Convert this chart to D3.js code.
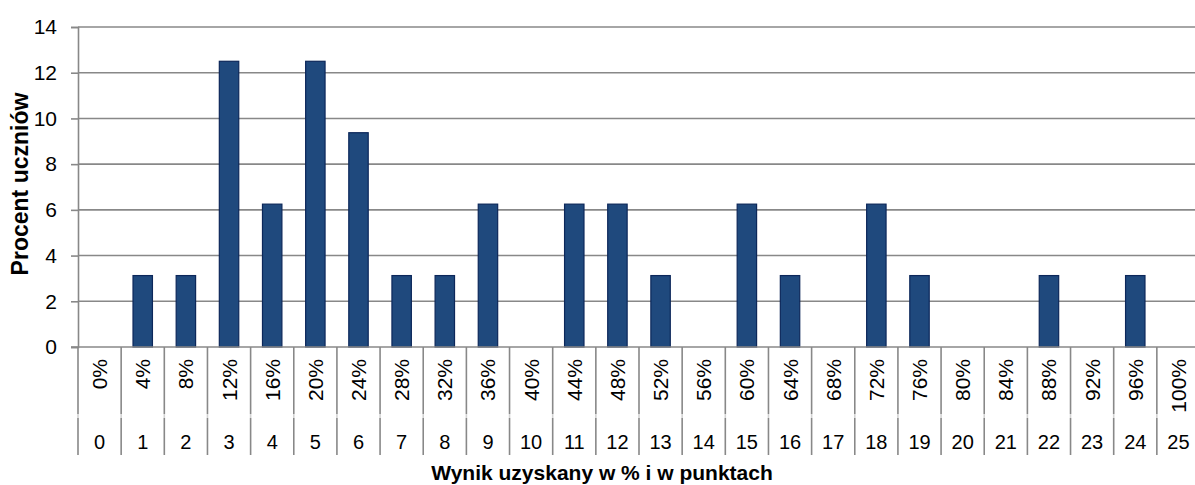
<!DOCTYPE html>
<html>
<head>
<meta charset="utf-8">
<script src="https://cdn.jsdelivr.net/npm/d3@7"></script>
<style>
  html, body { margin: 0; padding: 0; background: #fff; }
  svg { display: block; font-family: "Liberation Sans", Arial, sans-serif; }
</style>
</head>
<body>
<svg id="chart" width="1195" height="485"></svg>
<script>
// Score in points (0–25) and the matching percentage labels
const points = d3.range(0, 26).map(String);
const percentLabels = points.map(p => (p * 4) + "%");
// Share of students (%) for each score
const studentShare = [0, 3.125, 3.125, 12.5, 6.25, 12.5, 9.375, 3.125, 3.125, 6.25,
                      0, 6.25, 6.25, 3.125, 0, 6.25, 3.125, 0, 6.25, 3.125,
                      0, 0, 3.125, 0, 3.125, 0];
const yTicks = [0, 2, 4, 6, 8, 10, 12, 14];
const yTitle = "Procent uczniów";
const xTitle = "Wynik uzyskany w % i w punktach";

const svg = d3.select("#chart");
const plotLeft = 78, plotRight = 1200, plotTop = 27, plotBottom = 347;
const gridColor = "#888888";

const x = d3.scaleBand().domain(points).range([plotLeft, plotRight])
  .paddingInner(0.55).paddingOuter(0.275);
const y = d3.scaleLinear().domain([0, 14]).range([plotBottom, plotTop]);
const step = x.step();
const bandStart = d => x(d) - x.paddingInner() * step / 2;

// Horizontal gridlines
svg.append("g").selectAll("line").data(yTicks.filter(t => t > 0)).join("line")
  .attr("x1", plotLeft).attr("x2", plotRight)
  .attr("y1", d => y(d)).attr("y2", d => y(d))
  .attr("stroke", gridColor).attr("stroke-width", 1.6);

// Y axis
const yAxis = svg.append("g").attr("transform", `translate(${plotLeft},0)`)
  .call(d3.axisLeft(y).tickValues(yTicks).tickSize(7).tickPadding(14));
yAxis.select(".domain").attr("stroke", gridColor).attr("stroke-width", 1.6);
yAxis.selectAll(".tick line").attr("stroke", gridColor).attr("stroke-width", 1.6);
yAxis.selectAll(".tick text")
  .attr("font-size", 21).attr("fill", "#000")
  .attr("font-family", "Liberation Sans, Arial, sans-serif");

// Bars
svg.append("g").selectAll("rect").data(studentShare).join("rect")
  .attr("x", (d, i) => x(points[i]))
  .attr("width", x.bandwidth())
  .attr("y", d => y(d))
  .attr("height", d => y(0) - y(d))
  .attr("fill", "#1f497d")
  .attr("stroke", "#0c275a")
  .attr("stroke-width", 1.2)
  .attr("display", d => d > 0 ? null : "none");

// Category axis baseline
svg.append("line")
  .attr("x1", plotLeft - 7).attr("x2", plotRight)
  .attr("y1", y(0)).attr("y2", y(0))
  .attr("stroke", gridColor).attr("stroke-width", 1.6);

// Category dividers for the two label rows
const dividers = points.map(p => bandStart(p)).concat([plotRight]);
const dg = svg.append("g");
dg.selectAll("line.upper").data(dividers).join("line").attr("class", "upper")
  .attr("x1", d => d).attr("x2", d => d)
  .attr("y1", y(0)).attr("y2", 414)
  .attr("stroke", gridColor).attr("stroke-width", 1.6);
dg.selectAll("line.gap").data(dividers).join("line").attr("class", "gap")
  .attr("x1", d => d).attr("x2", d => d)
  .attr("y1", 414).attr("y2", 418)
  .attr("stroke", "#d4d4d4").attr("stroke-width", 1.6);
dg.selectAll("line.lower").data(dividers).join("line").attr("class", "lower")
  .attr("x1", d => d).attr("x2", d => d)
  .attr("y1", 418).attr("y2", 455)
  .attr("stroke", gridColor).attr("stroke-width", 1.6);

const center = p => x(p) + x.bandwidth() / 2;

// Percentage labels (rotated)
svg.append("g").selectAll("text").data(points).join("text")
  .attr("transform", (p) => `translate(${center(p)},359) rotate(-90)`)
  .attr("text-anchor", "end")
  .attr("dominant-baseline", "central")
  .attr("font-size", 21)
  .attr("fill", "#000")
  .text((p, i) => percentLabels[i]);

// Point labels
svg.append("g").selectAll("text").data(points).join("text")
  .attr("x", p => center(p)).attr("y", 449)
  .attr("text-anchor", "middle")
  .attr("font-size", 20)
  .attr("fill", "#000")
  .text(p => p);

// Axis titles
svg.append("text")
  .attr("transform", `translate(28,184) rotate(-90)`)
  .attr("text-anchor", "middle")
  .attr("font-size", 23).attr("font-weight", "bold")
  .text(yTitle);

svg.append("text")
  .attr("x", 602).attr("y", 480)
  .attr("text-anchor", "middle")
  .attr("font-size", 21).attr("font-weight", "bold")
  .text(xTitle);
</script>
</body>
</html>
